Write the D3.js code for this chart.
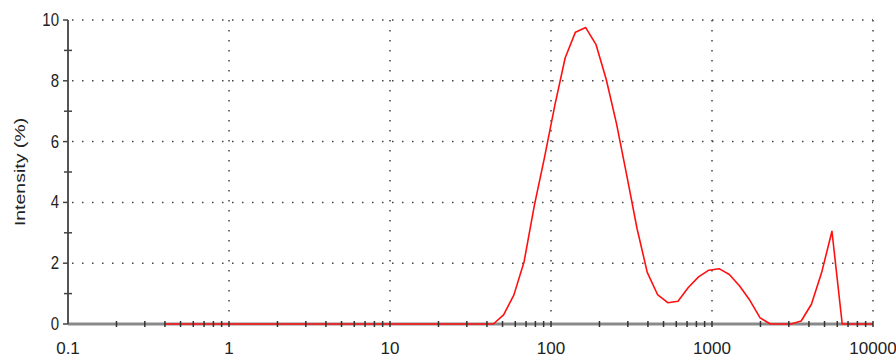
<!DOCTYPE html>
<html>
<head>
<meta charset="utf-8">
<script src="https://cdn.jsdelivr.net/npm/d3@7"></script>
<style>
  html, body { margin: 0; padding: 0; background: #fff; }
  svg { display: block; font-family: Arial, "Liberation Sans", sans-serif; }
</style>
</head>
<body>
<svg id="chart"></svg>
<script>
// size classes (d.nm) and intensity (%)
const sizes = [0.4, 0.4632, 0.5365, 0.6213, 0.7195, 0.8332, 0.9649, 1.117, 1.294, 1.499,
  1.736, 2.010, 2.328, 2.696, 3.122, 3.615, 4.187, 4.849, 5.615, 6.503,
  7.531, 8.721, 10.10, 11.70, 13.54, 15.69, 18.17, 21.04, 24.36, 28.21,
  32.67, 37.84, 43.82, 50.75, 58.77, 68.06, 78.82, 91.28, 105.7, 122.4,
  141.8, 164.2, 190.1, 220.2, 255.0, 295.3, 342.0, 396.1, 458.7, 531.2,
  615.1, 712.4, 825.0, 955.4, 1106, 1281, 1484, 1718, 1990, 2305,
  2669, 3091, 3580, 4145, 4801, 5560, 6439, 7456, 8635, 10000];
const intensity = [0, 0, 0, 0, 0, 0, 0, 0, 0, 0,
  0, 0, 0, 0, 0, 0, 0, 0, 0, 0,
  0, 0, 0, 0, 0, 0, 0, 0, 0, 0,
  0, 0, 0, 0.3, 0.95, 2.05, 3.9, 5.5, 7.2, 8.75,
  9.6, 9.75, 9.2, 8.05, 6.6, 4.9, 3.15, 1.7, 0.97, 0.7,
  0.75, 1.2, 1.55, 1.77, 1.82, 1.63, 1.25, 0.78, 0.2, 0,
  0, 0, 0.1, 0.65, 1.7, 3.05, 0, 0, 0, 0];
const xTickValues = [0.1, 1, 10, 100, 1000, 10000];
const xTickLabels = ['0.1', '1', '10', '100', '1000', '10000'];
const yTickValues = [0, 2, 4, 6, 8, 10];
const yMinorValues = [1, 3, 5, 7, 9];

const width = 896, height = 358;
const svg = d3.select('#chart').attr('width', width).attr('height', height);

const x = d3.scaleLog().domain([0.1, 10000]).range([68, 873]);
const y = d3.scaleLinear().domain([0, 10]).range([324, 20]);

// minor x ticks: 2..9 of each decade
const xMinor = [];
xTickValues.slice(0, -1).forEach(d => {
  for (let k = 2; k <= 9; k++) xMinor.push(d * k);
});

// dotted grid
const grid = svg.append('g')
  .attr('stroke', '#444')
  .attr('stroke-width', 1.5)
  .attr('stroke-dasharray', '1.5,8.5');

grid.selectAll('.hgrid')
  .data(yTickValues.filter(d => d > 0))
  .join('line')
  .attr('x1', x(0.1) + 4)
  .attr('x2', x(10000))
  .attr('y1', d => y(d))
  .attr('y2', d => y(d));

grid.selectAll('.vgrid')
  .data(xTickValues.slice(1))
  .join('line')
  .attr('x1', d => x(d))
  .attr('x2', d => x(d))
  .attr('y1', y(10))
  .attr('y2', y(0) - 4);

// x axis line
svg.append('line')
  .attr('x1', x(0.1)).attr('x2', x(10000))
  .attr('y1', y(0)).attr('y2', y(0))
  .attr('stroke', '#8a8a8a')
  .attr('stroke-width', 3);

// y axis line
svg.append('line')
  .attr('x1', x(0.1)).attr('x2', x(0.1))
  .attr('y1', y(10)).attr('y2', y(0))
  .attr('stroke', '#555')
  .attr('stroke-width', 2);

// data line
const line = d3.line()
  .x((d, i) => x(sizes[i]))
  .y(d => y(d));

svg.append('path')
  .datum(intensity)
  .attr('fill', 'none')
  .attr('stroke', '#ff1010')
  .attr('stroke-width', 1.6)
  .attr('stroke-linejoin', 'round')
  .attr('d', line);

// x ticks
svg.append('g')
  .selectAll('line')
  .data(xMinor.concat(xTickValues.slice(1)))
  .join('line')
  .attr('x1', d => x(d)).attr('x2', d => x(d))
  .attr('y1', y(0) - 3).attr('y2', y(0) + 3)
  .attr('stroke', '#333')
  .attr('stroke-width', 1.5);

// y ticks
svg.append('g')
  .selectAll('line')
  .data(yTickValues)
  .join('line')
  .attr('x1', x(0.1) - 5).attr('x2', x(0.1))
  .attr('y1', d => y(d)).attr('y2', d => y(d))
  .attr('stroke', '#444')
  .attr('stroke-width', 1.5);

svg.append('g')
  .selectAll('line')
  .data(yMinorValues)
  .join('line')
  .attr('x1', x(0.1) - 4).attr('x2', x(0.1) + 4)
  .attr('y1', d => y(d)).attr('y2', d => y(d))
  .attr('stroke', '#444')
  .attr('stroke-width', 1.5);

// y tick labels
svg.append('g')
  .selectAll('text')
  .data(yTickValues)
  .join('text')
  .attr('transform', d => `translate(${x(0.1) - 9},${y(d) + 6}) scale(1,1.2)`)
  .attr('text-anchor', 'end')
  .style('font-size', '15px')
  .style('fill', '#222')
  .text(d => d);

// x tick labels
svg.append('g')
  .selectAll('text')
  .data(xTickValues)
  .join('text')
  .attr('x', d => x(d))
  .attr('y', 354)
  .attr('text-anchor', 'middle')
  .style('font-size', '17px')
  .style('fill', '#222')
  .text((d, i) => xTickLabels[i]);

// y axis title
svg.append('text')
  .attr('transform', `translate(25,${(y(0) + y(10)) / 2}) rotate(-90) scale(1.3,1)`)
  .attr('text-anchor', 'middle')
  .style('font-size', '15px')
  .style('fill', '#222')
  .text('Intensity (%)');
</script>
</body>
</html>
